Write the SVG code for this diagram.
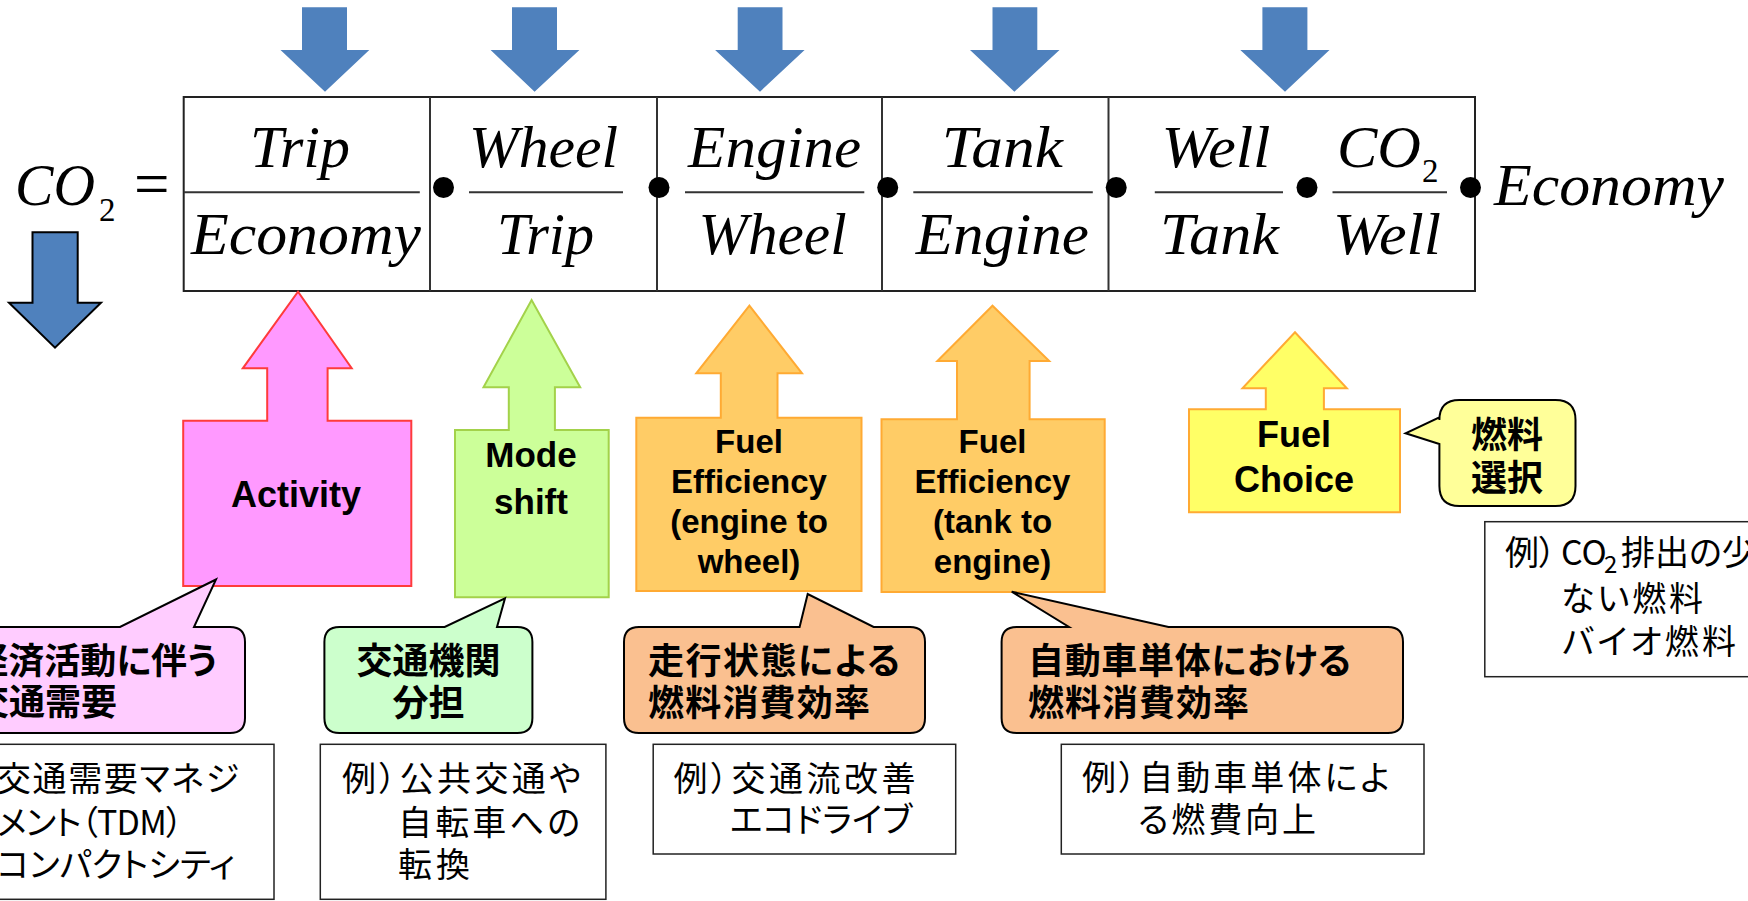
<svg xmlns="http://www.w3.org/2000/svg" width="1748" height="901" viewBox="0 0 1748 901">
<style>
.m{font-family:"Liberation Serif","DejaVu Serif",serif;font-style:italic;font-size:60px;fill:#000}
.mu{font-family:"Liberation Serif","DejaVu Serif",serif;fill:#000}
.fl{stroke:#333;stroke-width:2}
.dot{fill:#000}
.blue{fill:#4F81BD}
.lab{font-family:"Liberation Sans",Arial,sans-serif;font-weight:bold;fill:#000;text-anchor:middle}
.jb{font-family:"Noto Sans CJK JP","Noto Sans CJK SC",sans-serif;font-weight:bold;font-size:36px;fill:#000;font-feature-settings:"palt" 1}
.jn{font-family:"Noto Sans CJK JP","Noto Sans CJK SC",sans-serif;font-weight:normal;font-size:34px;fill:#000;font-feature-settings:"palt" 1}
.ex{fill:#fff;stroke:#222;stroke-width:1.5}
.co{stroke:#000;stroke-width:2}
</style>
<rect width="1748" height="901" fill="#fff"/>

<g id="connectors">
<path class="blue" d="M302,7.3 L347,7.3 L347,50 L369.3,50 L325,91.7 L280.5,50 L302,50 Z"/>
<path class="blue" d="M512,7.3 L557,7.3 L557,50 L579.4,50 L534.6,91.7 L490.6,50 L512,50 Z"/>
<path class="blue" d="M737.7,7.3 L782.5,7.3 L782.5,50 L804.6,50 L760,91.7 L715.1,50 L737.7,50 Z"/>
<path class="blue" d="M992.5,7.3 L1037.3,7.3 L1037.3,50 L1059.5,50 L1014.4,91.7 L970,50 L992.5,50 Z"/>
<path class="blue" d="M1262.4,7.3 L1307.4,7.3 L1307.4,50 L1329.5,50 L1285,91.7 L1240.3,50 L1262.4,50 Z"/>
<path class="blue" stroke="#000" stroke-width="2" d="M32.5,232.3 L77.7,232.3 L77.7,302.7 L101,302.7 L55,347.7 L9,302.7 L32.5,302.7 Z"/>
</g>

<g id="formula">
<rect x="183.7" y="97" width="1291.3" height="194" fill="#fff" stroke="#222" stroke-width="2"/>
<line x1="430" y1="97" x2="430" y2="291" stroke="#333" stroke-width="2"/>
<line x1="657" y1="97" x2="657" y2="291" stroke="#333" stroke-width="2"/>
<line x1="882" y1="97" x2="882" y2="291" stroke="#333" stroke-width="2"/>
<line x1="1108.5" y1="97" x2="1108.5" y2="291" stroke="#333" stroke-width="2"/>

<text class="m" x="15" y="205" textLength="80" lengthAdjust="spacingAndGlyphs" font-size="63">CO</text>
<text class="mu" x="99" y="220.7" font-size="33">2</text>
<text class="mu" x="134" y="205" font-size="63">=</text>

<line class="fl" x1="183.7" y1="192.3" x2="419.8" y2="192.3"/>
<text class="m" x="300" y="166.7" text-anchor="middle" textLength="100" lengthAdjust="spacingAndGlyphs">Trip</text>
<text class="m" x="306" y="254" text-anchor="middle" textLength="230" lengthAdjust="spacingAndGlyphs">Economy</text>

<circle class="dot" cx="443.5" cy="187.5" r="10.5"/>
<line class="fl" x1="469" y1="192.3" x2="623" y2="192.3"/>
<text class="m" x="543.5" y="166.7" text-anchor="middle" textLength="149" lengthAdjust="spacingAndGlyphs">Wheel</text>
<text class="m" x="545.5" y="254" text-anchor="middle" textLength="97" lengthAdjust="spacingAndGlyphs">Trip</text>

<circle class="dot" cx="659" cy="187.5" r="10.5"/>
<line class="fl" x1="685" y1="192.3" x2="864.3" y2="192.3"/>
<text class="m" x="774.6" y="166.7" text-anchor="middle" textLength="173" lengthAdjust="spacingAndGlyphs">Engine</text>
<text class="m" x="772.6" y="254" text-anchor="middle" textLength="148" lengthAdjust="spacingAndGlyphs">Wheel</text>

<circle class="dot" cx="887.7" cy="187.5" r="10.5"/>
<line class="fl" x1="913.3" y1="192.3" x2="1092.8" y2="192.3"/>
<text class="m" x="1002.3" y="166.7" text-anchor="middle" textLength="121" lengthAdjust="spacingAndGlyphs">Tank</text>
<text class="m" x="1002.3" y="254" text-anchor="middle" textLength="173" lengthAdjust="spacingAndGlyphs">Engine</text>

<circle class="dot" cx="1116.2" cy="187.5" r="10.5"/>
<line class="fl" x1="1154.8" y1="192.3" x2="1283" y2="192.3"/>
<text class="m" x="1216" y="166.7" text-anchor="middle" textLength="109" lengthAdjust="spacingAndGlyphs">Well</text>
<text class="m" x="1219.5" y="254" text-anchor="middle" textLength="119" lengthAdjust="spacingAndGlyphs">Tank</text>

<circle class="dot" cx="1307" cy="187.5" r="10.5"/>
<line class="fl" x1="1332.5" y1="192.3" x2="1447" y2="192.3"/>
<text class="m" x="1337" y="166.7" textLength="84" lengthAdjust="spacingAndGlyphs">CO</text>
<text class="mu" x="1422" y="181.7" font-size="33">2</text>
<text class="m" x="1387" y="254" text-anchor="middle" textLength="108" lengthAdjust="spacingAndGlyphs">Well</text>

<circle class="dot" cx="1470.5" cy="187.5" r="10.5"/>
<text class="m" x="1494" y="205" textLength="230" lengthAdjust="spacingAndGlyphs">Economy</text>
</g>

<g id="activity">
<path fill="#FF99FF" stroke="#FF3B3B" stroke-width="2" d="M183.2,586 L183.2,420.7 L267.2,420.7 L267.2,368.3 L242.8,368.3 L298,291.7 L351.7,368.3 L327.6,368.3 L327.6,420.7 L411.3,420.7 L411.3,586 Z"/>
<text class="lab" x="296" y="507" font-size="36">Activity</text>
</g>

<g id="mode-shift">
<path fill="#CCFF99" stroke="#A3D24A" stroke-width="2" d="M455,597.3 L455,430 L508.8,430 L508.8,387.3 L483.5,387.3 L531.6,300 L580.2,387.3 L554.9,387.3 L554.9,430 L608.7,430 L608.7,597.3 Z"/>
<text class="lab" x="531" y="467" font-size="35">Mode</text>
<text class="lab" x="531" y="514" font-size="35">shift</text>
</g>

<g id="fuel-eff-engine">
<path fill="#FFCC66" stroke="#FFAA33" stroke-width="2" d="M636.3,591 L636.3,417.7 L720.8,417.7 L720.8,373.3 L696.3,373.3 L749.4,305.7 L802,373.3 L777.5,373.3 L777.5,417.7 L861.5,417.7 L861.5,591 Z"/>
<text class="lab" x="749" y="453" font-size="33">Fuel</text>
<text class="lab" x="749" y="493" font-size="33">Efficiency</text>
<text class="lab" x="749" y="533" font-size="33">(engine to</text>
<text class="lab" x="749" y="573" font-size="33">wheel)</text>
</g>

<g id="fuel-eff-tank">
<path fill="#FFCC66" stroke="#FFAA33" stroke-width="2" d="M881.5,592 L881.5,419.3 L957,419.3 L957,361 L937.4,361 L992.5,305.7 L1049.2,361 L1029.6,361 L1029.6,419.3 L1104.7,419.3 L1104.7,592 Z"/>
<text class="lab" x="992.5" y="453" font-size="33">Fuel</text>
<text class="lab" x="992.5" y="493" font-size="33">Efficiency</text>
<text class="lab" x="992.5" y="533" font-size="33">(tank to</text>
<text class="lab" x="992.5" y="573" font-size="33">engine)</text>
</g>

<g id="fuel-choice">
<path fill="#FFFF66" stroke="#FFAA33" stroke-width="2" d="M1189,512.3 L1189,409.3 L1265.8,409.3 L1265.8,388.3 L1242.5,388.3 L1295,332.3 L1346.8,388.3 L1323.9,388.3 L1323.9,409.3 L1400,409.3 L1400,512.3 Z"/>
<text class="lab" x="1294" y="446.7" font-size="36">Fuel</text>
<text class="lab" x="1294" y="491.7" font-size="36">Choice</text>
</g>

<g id="callout-demand">
<path class="co" fill="#FFCCFF" d="M-20,642 Q-20,627 -5,627 L120,627 L216,579.5 L194,627 L230,627 Q245,627 245,642 L245,718 Q245,733 230,733 L-5,733 Q-20,733 -20,718 Z"/>
<text class="jb" x="217" y="674" text-anchor="end" font-size="35">経済活動に伴う</text>
<text class="jb" x="117" y="715" text-anchor="end" font-size="35">交通需要</text>
</g>

<g id="callout-mode">
<path class="co" fill="#CCFFCC" d="M324.4,642 Q324.4,627 339.4,627 L444.7,627 L505,598.3 L497,627 L517.4,627 Q532.4,627 532.4,642 L532.4,718 Q532.4,733 517.4,733 L339.4,733 Q324.4,733 324.4,718 Z"/>
<text class="jb" x="428.4" y="674" text-anchor="middle">交通機関</text>
<text class="jb" x="428.4" y="716" text-anchor="middle">分担</text>
</g>

<g id="callout-driving">
<path class="co" fill="#FAC090" d="M624,642 Q624,627 639,627 L799.6,627 L807.7,594 L873.6,627 L910,627 Q925,627 925,642 L925,718 Q925,733 910,733 L639,733 Q624,733 624,718 Z"/>
<text class="jb" x="648" y="674" textLength="252">走行状態による</text>
<text class="jb" x="648" y="716" textLength="222">燃料消費効率</text>
</g>

<g id="callout-vehicle">
<path class="co" fill="#FAC090" d="M1001.6,642 Q1001.6,627 1016.6,627 L1069,627 L1011.7,591.7 L1168.5,627 L1388,627 Q1403,627 1403,642 L1403,718 Q1403,733 1388,733 L1016.6,733 Q1001.6,733 1001.6,718 Z"/>
<text class="jb" x="1028" y="674" textLength="323">自動車単体における</text>
<text class="jb" x="1028" y="716" textLength="221">燃料消費効率</text>
</g>

<g id="callout-fuel">
<path class="co" fill="#FFFF99" d="M1459.4,400 L1555.5,400 Q1575.5,400 1575.5,420 L1575.5,486 Q1575.5,506 1555.5,506 L1459.4,506 Q1439.4,506 1439.4,486 L1439.4,444 L1405.6,433.3 L1439.4,417.3 L1439.4,420 Q1439.4,400 1459.4,400 Z"/>
<text class="jb" x="1507" y="448" text-anchor="middle">燃料</text>
<text class="jb" x="1507" y="491" text-anchor="middle">選択</text>
</g>

<g id="example-demand">
<rect class="ex" x="-5" y="744.3" width="279" height="155"/>
<text class="jn" x="-3" y="791" textLength="242">交通需要マネジ</text>
<text class="jn" x="-3" y="835" textLength="186">メント（TDM）</text>
<text class="jn" x="-3" y="877" textLength="238">コンパクトシティ</text>
</g>

<g id="example-mode">
<rect class="ex" x="320.3" y="744.3" width="285.6" height="155"/>
<text class="jn" x="342" y="791" textLength="239">例）公共交通や</text>
<text class="jn" x="398" y="835" textLength="182">自転車への</text>
<text class="jn" x="398" y="877" textLength="72">転換</text>
</g>

<g id="example-driving">
<rect class="ex" x="653.2" y="744.3" width="302.5" height="109.7"/>
<text class="jn" x="673.6" y="791" textLength="242">例）交通流改善</text>
<text class="jn" x="730" y="832" textLength="182">エコドライブ</text>
</g>

<g id="example-vehicle">
<rect class="ex" x="1061.3" y="744.3" width="362.7" height="109.7"/>
<text class="jn" x="1082" y="790" textLength="308">例）自動車単体によ</text>
<text class="jn" x="1138" y="832" textLength="178">る燃費向上</text>
</g>

<g id="example-fuel">
<rect class="ex" x="1484.8" y="521.7" width="280" height="155"/>
<text class="jn" x="1505" y="565">例）<tspan x="1561">CO</tspan><tspan x="1604" dy="8" font-size="24">2</tspan><tspan x="1621" dy="-8">排出の少</tspan></text>
<text class="jn" x="1561" y="611" textLength="142">ない燃料</text>
<text class="jn" x="1562" y="654" textLength="174">バイオ燃料</text>
</g>
</svg>
